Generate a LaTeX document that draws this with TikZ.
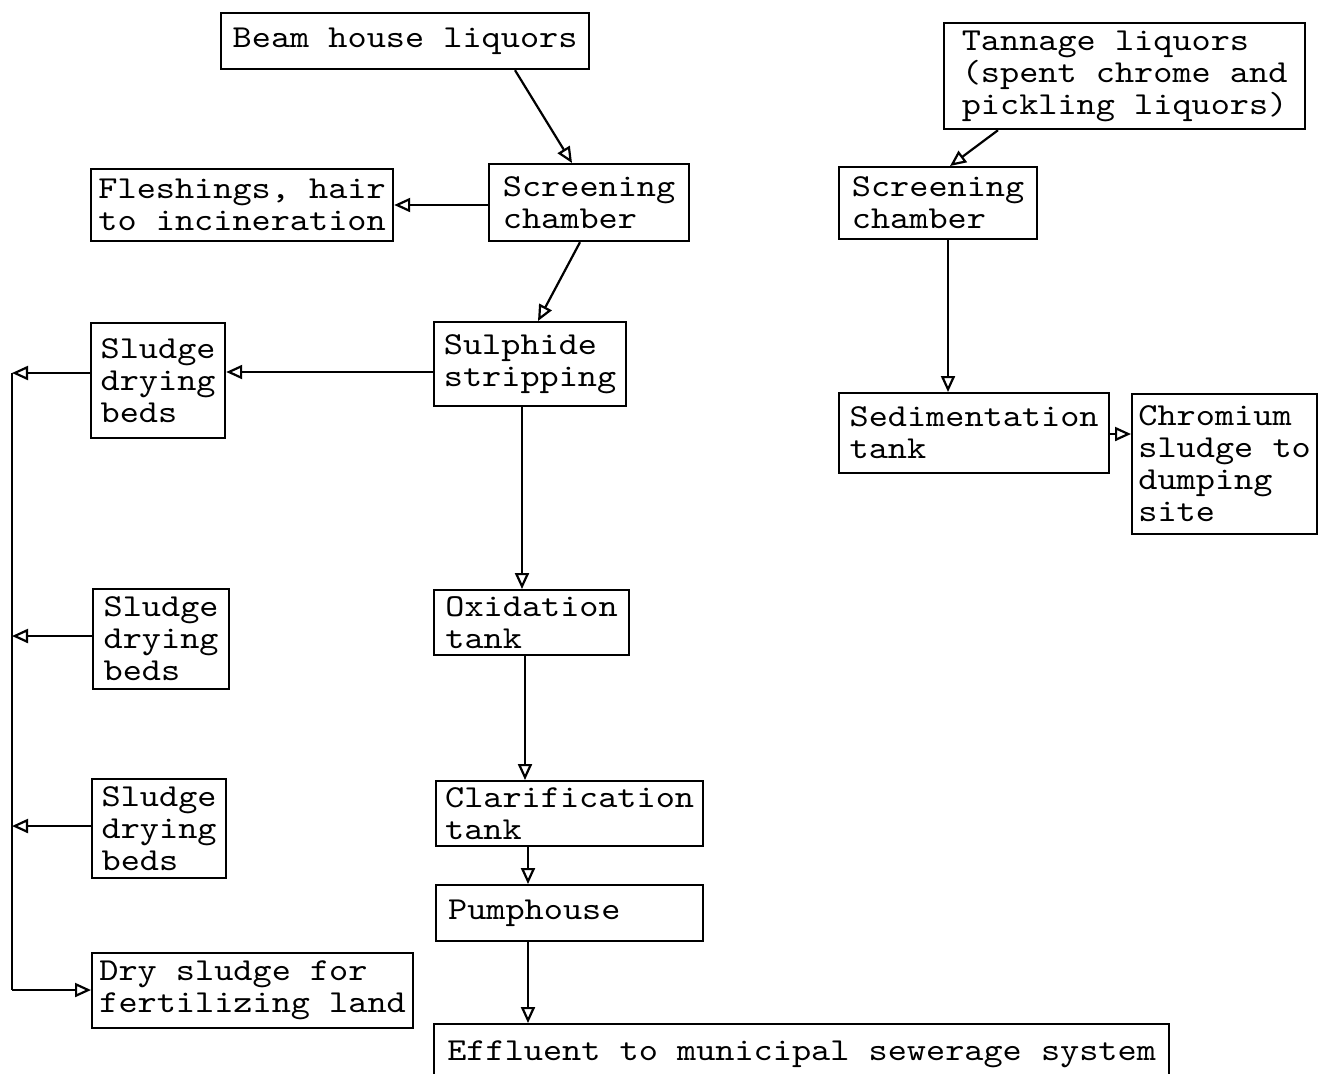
\documentclass[tikz,border=0pt]{standalone}
\usepackage{fontspec}
\newfontfamily\twfont[FakeStretch=1.14]{lmmono10-regular.otf}
\usetikzlibrary{arrows.meta}

\tikzset{
  box/.style = {draw, line width=1.1pt, anchor=north west, align=left, inner sep=0pt,
                font=\twfont\fontsize{16pt}{16pt}\selectfont},
  arr/.style = {line width=1.1pt, -{Triangle[open, length=8pt, width=7pt]}},
  bus/.style = {line width=1.1pt}
}

\begin{document}
\begin{tikzpicture}[x=0.5pt, y=-0.5pt]
\useasboundingbox (0,0) rectangle (1320,1073);
% main line
\node[box, minimum width=184pt, minimum height=28pt] (beam) at (220,12) {Beam house liquors};
\node[box, minimum width=100pt, minimum height=38.5pt] (scr1) at (488,163) {Screening\\chamber};
\node[box, minimum width=151pt, minimum height=36pt] (flesh) at (90,168) {Fleshings, hair\\to incineration};
\node[box, minimum width=96pt, minimum height=42pt] (sulph) at (433,321) {Sulphide\\stripping};
\node[box, minimum width=97.5pt, minimum height=32.5pt] (oxid) at (433,589) {Oxidation\\tank};
\node[box, minimum width=133.5pt, minimum height=32.5pt] (clar) at (435,780) {Clarification\\tank};
\node[box, minimum width=133.5pt, minimum height=28pt, text width=121.5pt] (pump) at (435,884) {Pumphouse};
\node[box, minimum width=367.5pt, minimum height=30pt] (effl) at (433,1023) {Effluent to municipal sewerage system};
% sludge beds
\node[box, minimum width=67pt, minimum height=57.5pt] (bed1) at (90,322) {Sludge\\drying\\beds};
\node[box, minimum width=68pt, minimum height=50pt] (bed2) at (92,588) {Sludge\\drying\\beds};
\node[box, minimum width=67pt, minimum height=49.5pt] (bed3) at (91,778) {Sludge\\drying\\beds};
\node[box, minimum width=160.5pt, minimum height=37.5pt] (dry) at (91,952) {Dry sludge for\\fertilizing land};
% tannage line
\node[box, minimum width=180.5pt, minimum height=53pt] (tan) at (943,22) {Tannage liquors\\(spent chrome and\\pickling liquors)};
\node[box, minimum width=99pt, minimum height=36pt] (scr2) at (838,166) {Screening\\chamber};
\node[box, minimum width=135pt, minimum height=40pt] (sed) at (838,392) {Sedimentation\\tank};
\node[box, minimum width=92.5pt, minimum height=70pt] (chrom) at (1131,393) {Chromium\\sludge to\\dumping\\site};

\coordinate (bus1) at (12,373);
\coordinate (bus2) at (12,636);
\coordinate (bus3) at (12,826);
\coordinate (bus4) at (12,990);

\draw[arr] (beam.south -| 515,0) -- (scr1.north -| 572,0);
\draw[arr] (scr1.west |- 0,205) -- (flesh.east |- 0,205);
\draw[arr] (scr1.south -| 580,0) -- (sulph.north -| 538,0);
\draw[arr] (sulph.west |- 0,372) -- (bed1.east |- 0,372);
\draw[arr] (sulph.south -| 522,0) -- (oxid.north -| 522,0);
\draw[arr] (oxid.south -| 525,0) -- (clar.north -| 525,0);
\draw[arr] (clar.south -| 528,0) -- (pump.north -| 528,0);
\draw[arr] (pump.south -| 528,0) -- (effl.north -| 528,0);

\draw[arr] (tan.south -| 998,0) -- (scr2.north -| 950,0);
\draw[arr] (scr2.south -| 948,0) -- (sed.north -| 948,0);
\draw[arr] (sed.east |- 0,434) -- (chrom.west |- 0,434);

\draw[arr] (bed1.west |- bus1) -- (bus1);
\draw[arr] (bed2.west |- bus2) -- (bus2);
\draw[arr] (bed3.west |- bus3) -- (bus3);
\draw[bus] (bus1) -- (bus4);
\draw[arr] (bus4) -- (dry.west |- bus4);
\end{tikzpicture}
\end{document}
